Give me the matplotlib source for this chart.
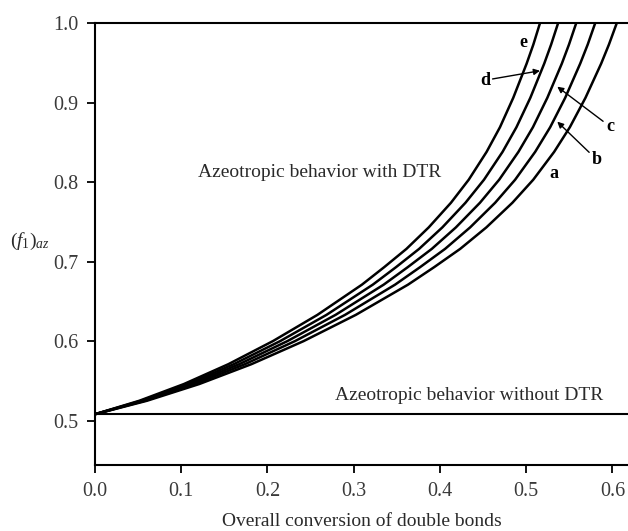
import matplotlib
matplotlib.use("Agg")
import matplotlib.pyplot as plt

plt.rcParams['font.family'] = ['Liberation Serif', 'DejaVu Serif']
plt.rcParams['mathtext.fontset'] = 'custom'
plt.rcParams['mathtext.rm'] = 'Liberation Serif'
plt.rcParams['mathtext.it'] = 'Liberation Serif:italic'

# azeotropic composition levels (shared by all curves)
f_az = [0.508, 0.525, 0.546, 0.571, 0.600, 0.633, 0.671, 0.693, 0.716,
        0.743, 0.774, 0.803, 0.838, 0.869, 0.906, 0.949, 0.973, 1.000]

# overall conversion at which each curve reaches those levels
conv_a = [0.0, 0.0605, 0.121, 0.1815, 0.242, 0.3025, 0.363, 0.3933, 0.4235,
          0.4538, 0.484, 0.5082, 0.5324, 0.5506, 0.5687, 0.5869, 0.5959, 0.605]
conv_b = [0.0, 0.058, 0.116, 0.174, 0.232, 0.290, 0.348, 0.377, 0.406,
          0.435, 0.464, 0.4872, 0.5104, 0.5278, 0.5452, 0.5626, 0.5713, 0.580]
conv_c = [0.0, 0.0558, 0.1116, 0.1674, 0.2232, 0.279, 0.3348, 0.3627, 0.3906,
          0.4185, 0.4464, 0.4687, 0.4910, 0.5078, 0.5245, 0.5413, 0.5496, 0.558]
conv_d = [0.0, 0.0537, 0.1074, 0.1611, 0.2148, 0.2685, 0.3222, 0.3491, 0.3759,
          0.4028, 0.4296, 0.4511, 0.4726, 0.4887, 0.5048, 0.5209, 0.5289, 0.537]
conv_e = [0.0, 0.0516, 0.1032, 0.1548, 0.2064, 0.258, 0.3096, 0.3354, 0.3612,
          0.387, 0.4128, 0.4334, 0.4541, 0.4696, 0.4850, 0.5005, 0.5083, 0.516]

f_no_dtr = 0.508
xticks = [0.0, 0.1, 0.2, 0.3, 0.4, 0.5, 0.6]
yticks = [0.5, 0.6, 0.7, 0.8, 0.9, 1.0]

fig = plt.figure(figsize=(6.28, 5.31), dpi=100)
ax = fig.add_axes([0.151, 0.124, 0.849, 0.8326])

for conv in [conv_a, conv_b, conv_c, conv_d, conv_e]:
    ax.plot(conv, f_az, color='black', lw=1.8, solid_joinstyle='round')

ax.axhline(f_no_dtr, color='black', lw=1.5)

ax.set_xlim(0, 0.618)
ax.set_ylim(0.444, 1.0)
ax.set_xticks(xticks)
ax.set_yticks(yticks)
ax.xaxis.set_major_formatter(matplotlib.ticker.FormatStrFormatter('%.1f'))
ax.yaxis.set_major_formatter(matplotlib.ticker.FormatStrFormatter('%.1f'))
ax.tick_params(direction='out', length=6, width=1.3, labelsize=14.5,
               labelcolor='#3a3a3a', pad=6)
ax.spines['right'].set_visible(False)
for s in ['left', 'bottom', 'top']:
    ax.spines[s].set_linewidth(1.5)

ax.set_xlabel('Overall conversion of double bonds', fontsize=14,
              color='#2a2a2a', labelpad=9)
fig.text(0.048, 0.545, r'$(f_{\mathrm{1}})_{az}$', fontsize=14,
         ha='center', va='center', color='#2a2a2a')

ax.text(0.1195, 0.8126, 'Azeotropic behavior with DTR', fontsize=14,
        va='center', ha='left', color='#2a2a2a')
ax.text(0.278, 0.531, 'Azeotropic behavior without DTR', fontsize=14,
        va='center', ha='left', color='#2a2a2a')

bold = dict(fontsize=13, fontweight='bold', ha='center', va='center')
ax.text(0.4965, 0.975, 'e', **bold)
ax.text(0.532, 0.811, 'a', **bold)
arrow = dict(arrowstyle='-|>', color='black', lw=1.0, mutation_scale=9,
             shrinkA=0, shrinkB=0)
ax.annotate('d', xy=(0.516, 0.940), xytext=(0.452, 0.928),
            arrowprops=arrow, **bold)
ax.annotate('c', xy=(0.536, 0.920), xytext=(0.597, 0.870),
            arrowprops=arrow, **bold)
ax.annotate('b', xy=(0.536, 0.876), xytext=(0.582, 0.828),
            arrowprops=arrow, **bold)

fig.savefig('out.png', dpi=100)
